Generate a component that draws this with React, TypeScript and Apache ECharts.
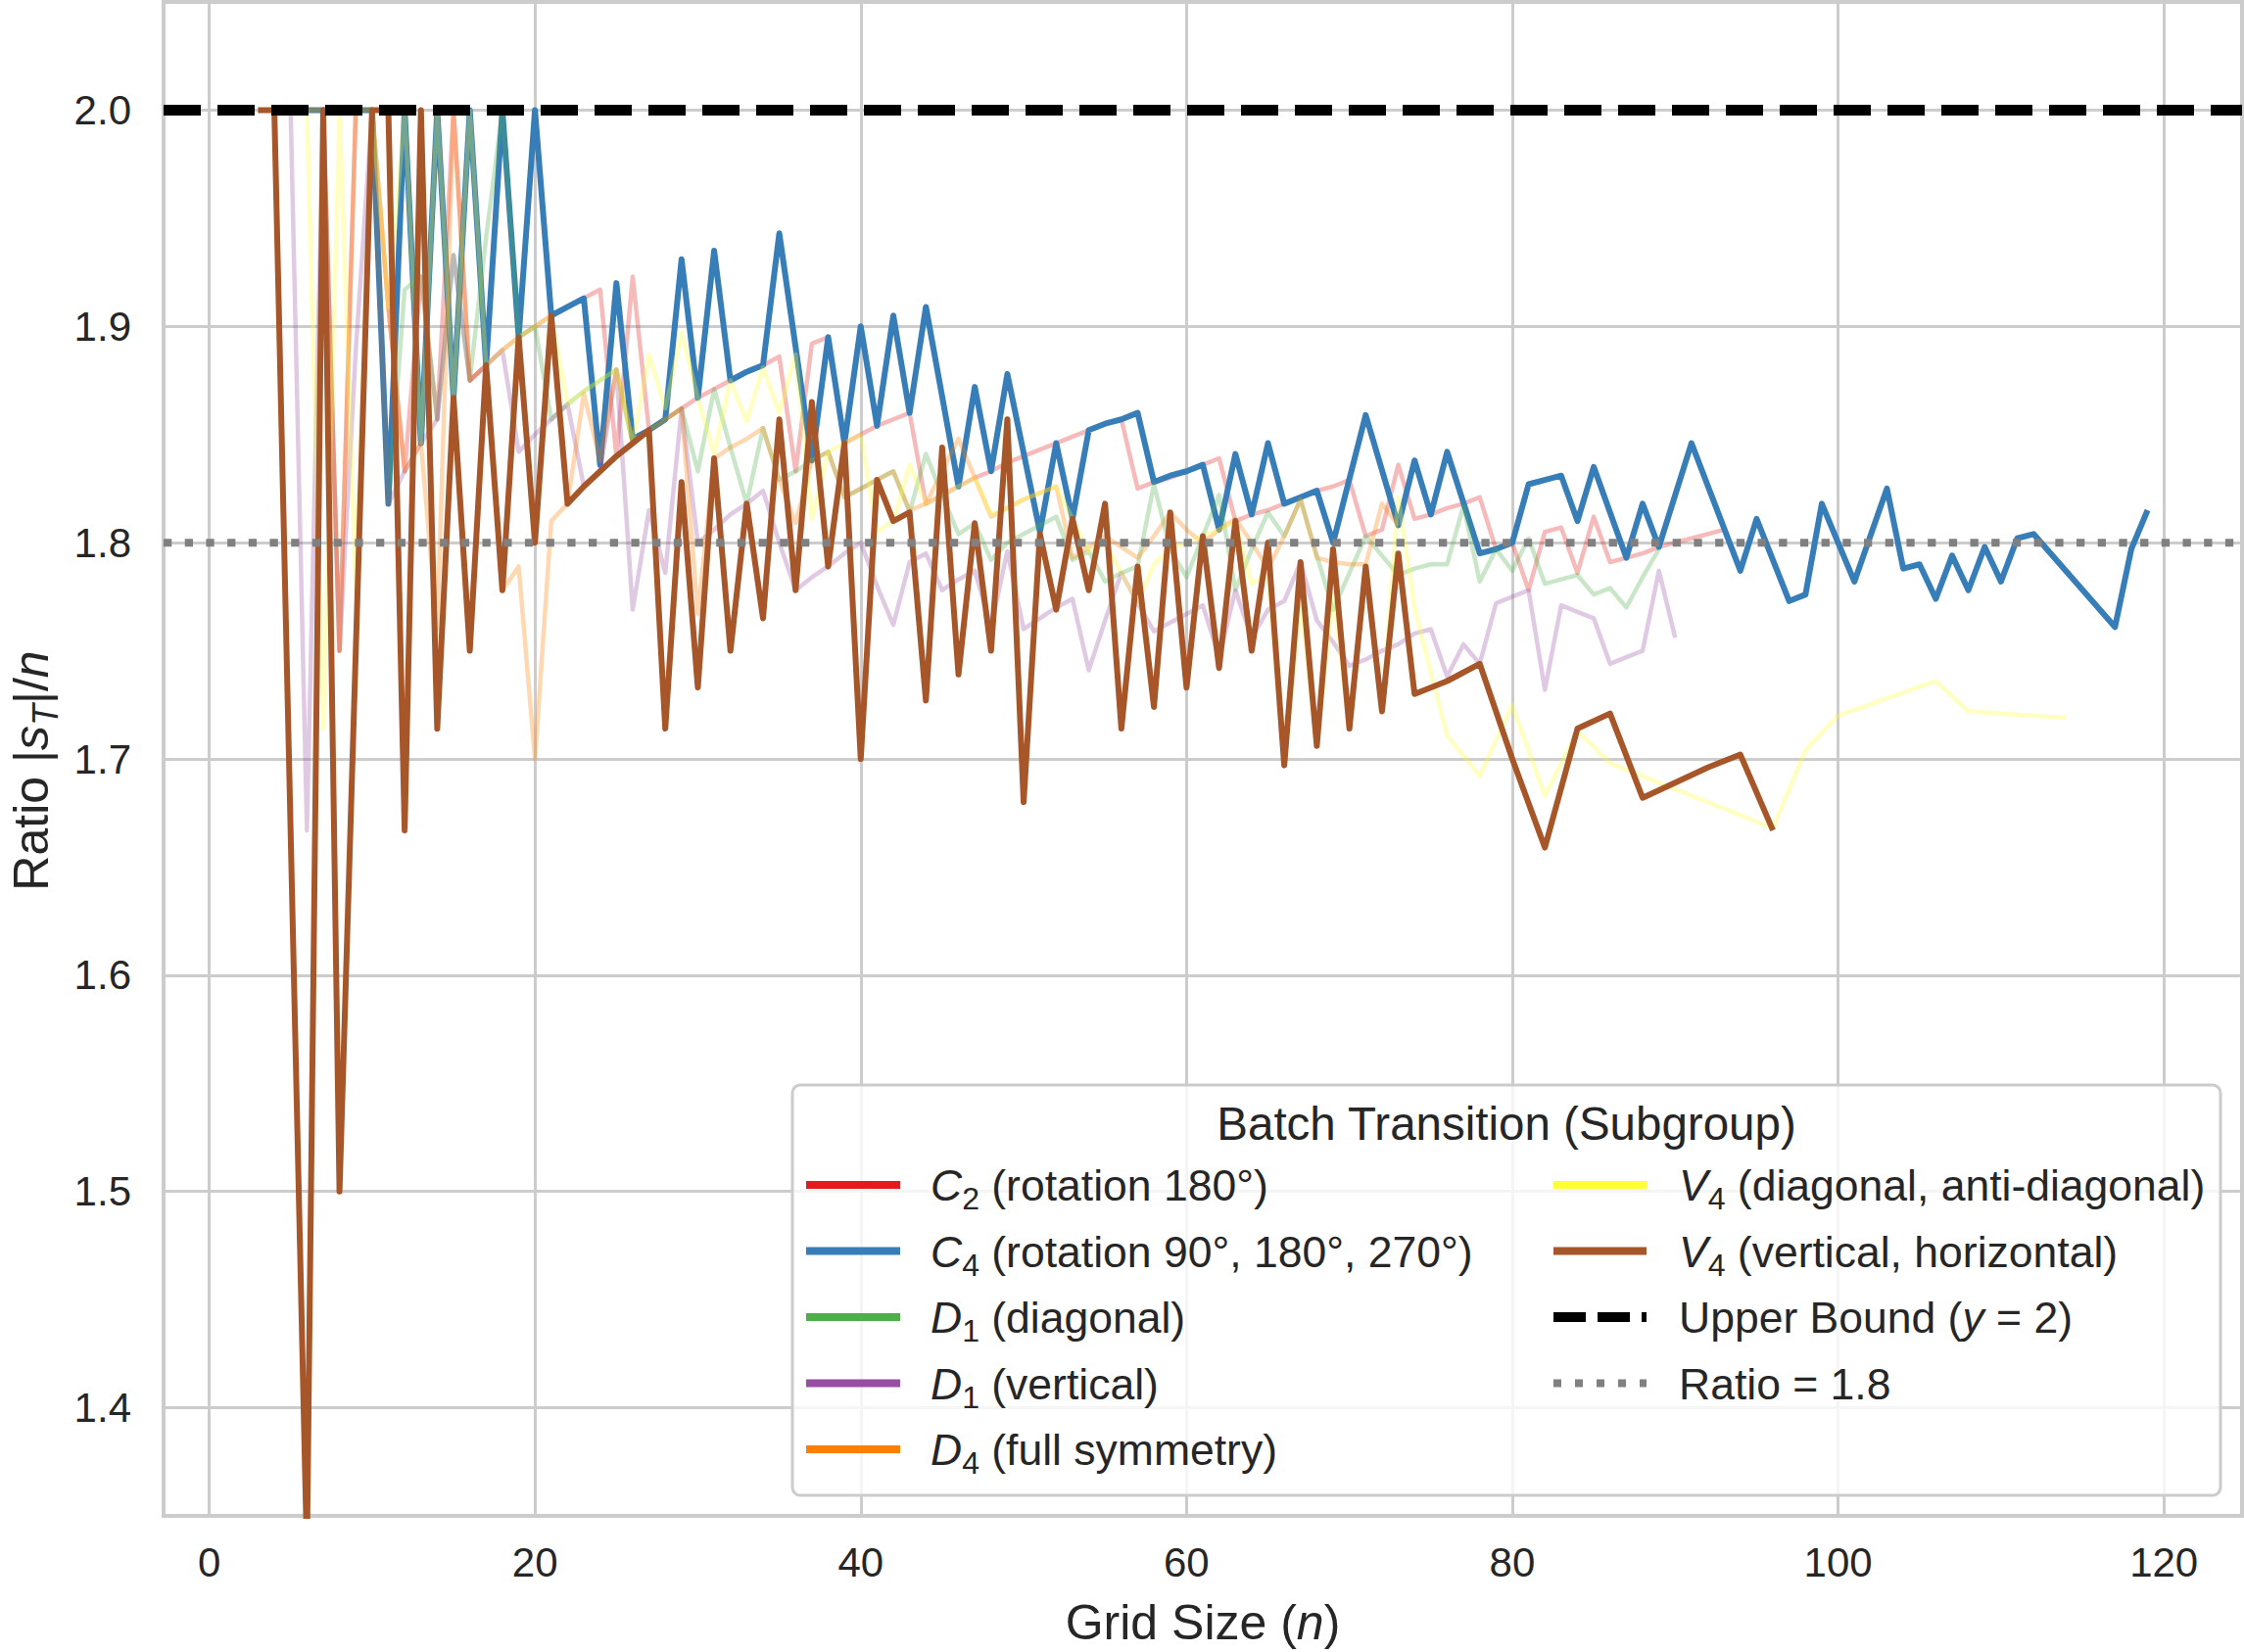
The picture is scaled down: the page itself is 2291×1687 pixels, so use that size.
import React, { useEffect, useRef } from "react";
import * as echarts from "echarts";

// ---------------- data ----------------
const X_MIN = -2.8;
const X_MAX = 124.8;
const Y_MIN = 1.35;
const Y_MAX = 2.05;
const X_TICKS = [0, 20, 40, 60, 80, 100, 120];
const Y_TICKS = [1.4, 1.5, 1.6, 1.7, 1.8, 1.9, 2.0];
const UPPER_BOUND = 2.0;
const RATIO_LINE = 1.8;

const c2Data = [
  [4, 2.0], [5, 2.0], [6, 2.0], [7, 2.0], [8, 1.75], [9, 2.0], [10, 2.0], [11, 1.909], [12, 1.833], [13, 1.923],
  [14, 1.857], [15, 2.0], [16, 1.875], [17, 1.882], [18, 1.889], [19, 1.895], [20, 1.9], [21, 1.905], [22, 1.909],
  [23, 1.913], [24, 1.917], [25, 1.84], [26, 1.923], [27, 1.852], [28, 1.857], [29, 1.862], [30, 1.867], [31, 1.871],
  [32, 1.875], [33, 1.879], [34, 1.882], [35, 1.886], [36, 1.833], [37, 1.892], [38, 1.895], [39, 1.846], [40, 1.85],
  [41, 1.854], [42, 1.857], [43, 1.86], [44, 1.818], [45, 1.822], [46, 1.826], [47, 1.83], [48, 1.833], [49, 1.837],
  [50, 1.84], [51, 1.843], [52, 1.846], [53, 1.849], [54, 1.852], [55, 1.855], [56, 1.857], [57, 1.825], [58, 1.828],
  [59, 1.83], [60, 1.833], [61, 1.836], [62, 1.839], [63, 1.81], [64, 1.813], [65, 1.815], [66, 1.818], [67, 1.821],
  [68, 1.824], [69, 1.826], [70, 1.829], [71, 1.803], [72, 1.806], [73, 1.836], [74, 1.811], [75, 1.813], [76, 1.816],
  [77, 1.818], [78, 1.821], [79, 1.797], [80, 1.8], [81, 1.778], [82, 1.805], [83, 1.807], [84, 1.786], [85, 1.812],
  [86, 1.791], [87, 1.793], [88, 1.795], [89, 1.798], [90, 1.8], [91, 1.802], [92, 1.804], [93, 1.806],
];

const c4Data = [
  [4, 2.0], [5, 2.0], [6, 2.0], [7, 2.0], [8, 2.0], [9, 2.0], [10, 2.0], [11, 1.818], [12, 2.0], [13, 1.846],
  [14, 2.0], [15, 1.867], [16, 2.0], [17, 1.882], [18, 2.0], [19, 1.895], [20, 2.0], [21, 1.905], [22, 1.909],
  [23, 1.913], [24, 1.836], [25, 1.92], [26, 1.848], [27, 1.852], [28, 1.857], [29, 1.931], [30, 1.867], [31, 1.935],
  [32, 1.875], [33, 1.879], [34, 1.882], [35, 1.943], [37, 1.838], [38, 1.895], [39, 1.846], [40, 1.9], [41, 1.854],
  [42, 1.905], [43, 1.86], [44, 1.909], [46, 1.826], [47, 1.872], [48, 1.833], [49, 1.878], [51, 1.805], [52, 1.846],
  [53, 1.811], [54, 1.852], [55, 1.855], [56, 1.857], [57, 1.86], [58, 1.828], [59, 1.831], [60, 1.833], [61, 1.836],
  [62, 1.806], [63, 1.841], [64, 1.813], [65, 1.846], [66, 1.818], [67, 1.821], [68, 1.824], [69, 1.8], [71, 1.859],
  [73, 1.808], [74, 1.838], [75, 1.813], [76, 1.842], [78, 1.795], [79, 1.797], [80, 1.8], [81, 1.827], [82, 1.829],
  [83, 1.831], [84, 1.81], [85, 1.835], [87, 1.793], [88, 1.818], [89, 1.798], [91, 1.846], [94, 1.787], [95, 1.811],
  [97, 1.773], [98, 1.776], [99, 1.818], [101, 1.782], [103, 1.825], [104, 1.788], [105, 1.79], [106, 1.774],
  [107, 1.794], [108, 1.778], [109, 1.798], [110, 1.782], [111, 1.802], [112, 1.804], [117, 1.761], [118, 1.797],
  [119, 1.815],
];

const d1DiagData = [
  [4, 2.0], [5, 2.0], [6, 2.0], [7, 2.0], [8, 2.0], [9, 2.0], [10, 2.0], [11, 1.818], [12, 1.917], [13, 1.923],
  [14, 1.857], [15, 1.933], [16, 1.875], [17, 1.941], [18, 2.0], [19, 1.895], [20, 1.9], [21, 1.857], [22, 1.864],
  [23, 1.87], [24, 1.875], [25, 1.88], [26, 1.846], [27, 1.852], [28, 1.857], [29, 1.862], [30, 1.833], [31, 1.871],
  [32, 1.844], [33, 1.818], [34, 1.853], [35, 1.829], [36, 1.833], [37, 1.838], [38, 1.842], [39, 1.821], [40, 1.825],
  [41, 1.829], [42, 1.833], [43, 1.814], [44, 1.841], [45, 1.822], [46, 1.804], [47, 1.809], [48, 1.792], [49, 1.8],
  [50, 1.804], [51, 1.808], [52, 1.812], [53, 1.792], [54, 1.796], [55, 1.782], [56, 1.786], [57, 1.789], [58, 1.827],
  [59, 1.797], [60, 1.784], [61, 1.803], [62, 1.822], [63, 1.778], [64, 1.797], [65, 1.814], [66, 1.803], [67, 1.82],
  [68, 1.794], [69, 1.769], [70, 1.786], [71, 1.803], [72, 1.794], [73, 1.785], [74, 1.788], [75, 1.79], [76, 1.79],
  [77, 1.817], [78, 1.782], [79, 1.797], [80, 1.787], [81, 1.802], [82, 1.781], [83, 1.783], [84, 1.785], [85, 1.776],
  [86, 1.779], [87, 1.77], [88, 1.784], [89, 1.797],
];

const d1VertData = [
  [4, 2.0], [5, 2.0], [6, 1.667], [7, 2.0], [8, 1.75], [9, 1.889], [10, 2.0], [11, 1.818], [12, 1.833], [13, 1.846],
  [14, 1.857], [15, 1.933], [16, 1.875], [17, 1.882], [18, 1.889], [19, 1.842], [20, 1.85], [21, 1.857], [22, 1.864],
  [23, 1.826], [24, 1.833], [25, 1.88], [26, 1.769], [27, 1.815], [28, 1.786], [29, 1.862], [30, 1.8], [31, 1.806],
  [32, 1.813], [33, 1.818], [34, 1.824], [35, 1.8], [36, 1.778], [37, 1.784], [38, 1.789], [39, 1.795], [40, 1.8],
  [41, 1.78], [42, 1.762], [43, 1.791], [44, 1.795], [45, 1.778], [46, 1.783], [47, 1.787], [48, 1.761], [49, 1.796],
  [50, 1.76], [51, 1.765], [52, 1.77], [53, 1.774], [54, 1.741], [55, 1.764], [56, 1.786], [57, 1.772], [58, 1.759],
  [59, 1.763], [60, 1.767], [61, 1.771], [62, 1.747], [63, 1.778], [64, 1.756], [65, 1.769], [66, 1.773], [67, 1.791],
  [68, 1.764], [69, 1.754], [70, 1.743], [71, 1.746], [72, 1.75], [73, 1.753], [74, 1.758], [75, 1.76], [76, 1.738],
  [77, 1.753], [78, 1.744], [79, 1.772], [80, 1.775], [81, 1.778], [82, 1.732], [83, 1.771], [84, 1.768], [85, 1.765],
  [86, 1.744], [87, 1.747], [88, 1.75], [89, 1.787], [90, 1.756],
];

const d4Data = [
  [3, 2.0], [4, 2.0], [5, 2.0], [6, 2.0], [7, 2.0], [8, 1.75], [9, 2.0], [10, 2.0], [11, 1.909], [12, 1.833],
  [13, 1.846], [14, 1.76], [15, 2.0], [16, 1.875], [17, 1.882], [18, 1.778], [19, 1.789], [20, 1.7], [21, 1.81],
  [22, 1.818], [23, 1.869], [24, 1.838], [25, 1.88], [26, 1.846], [27, 1.852], [28, 1.857], [29, 1.862], [30, 1.767],
  [31, 1.839], [32, 1.844], [33, 1.848], [34, 1.853], [35, 1.829], [36, 1.809], [37, 1.838], [38, 1.842], [39, 1.821],
  [40, 1.825], [41, 1.829], [42, 1.833], [43, 1.815], [44, 1.818], [45, 1.833], [46, 1.848], [47, 1.83], [48, 1.812],
  [49, 1.816], [50, 1.82], [51, 1.823], [52, 1.826], [53, 1.793], [54, 1.798], [55, 1.803], [56, 1.798], [57, 1.793],
  [58, 1.803], [59, 1.814], [60, 1.806], [61, 1.8], [62, 1.806], [63, 1.811], [64, 1.8], [65, 1.788], [66, 1.803],
  [67, 1.82], [68, 1.793], [69, 1.791], [70, 1.79], [71, 1.79], [72, 1.818], [73, 1.808],
];

const v4DiagData = [
  [5, 2.0], [6, 2.0], [7, 1.714], [8, 2.0], [9, 1.778], [10, 2.0], [11, 1.909], [12, 2.0], [13, 1.846], [14, 2.0],
  [15, 1.867], [16, 2.0], [17, 1.882], [18, 1.889], [19, 1.895], [20, 1.9], [21, 1.905], [22, 1.864], [23, 1.87],
  [24, 1.875], [25, 1.88], [26, 1.846], [27, 1.887], [28, 1.862], [29, 1.897], [30, 1.867], [31, 1.841], [32, 1.875],
  [33, 1.856], [34, 1.881], [35, 1.86], [36, 1.887], [37, 1.811], [38, 1.842], [39, 1.846], [40, 1.85], [41, 1.805],
  [42, 1.81], [43, 1.836], [44, 1.818], [45, 1.822], [46, 1.826], [47, 1.83], [48, 1.813], [49, 1.816], [50, 1.82],
  [51, 1.823], [52, 1.826], [53, 1.811], [54, 1.796], [55, 1.8], [56, 1.786], [57, 1.772], [58, 1.79], [59, 1.797],
  [60, 1.8], [61, 1.803], [62, 1.806], [63, 1.81], [64, 1.781], [65, 1.785], [66, 1.697], [67, 1.773], [68, 1.706],
  [69, 1.776], [70, 1.714], [71, 1.79], [72, 1.722], [73, 1.821], [74, 1.77], [75, 1.74], [76, 1.711], [78, 1.692],
  [80, 1.725], [82, 1.683], [84, 1.713], [86, 1.698], [96, 1.668], [98, 1.704], [100, 1.72], [106, 1.736],
  [108, 1.722], [114, 1.719],
];

const v4VertData = [
  [3, 2.0], [4, 2.0], [6, 1.333], [7, 2.0], [8, 1.5], [10, 2.0], [11, 2.0], [12, 1.667], [13, 2.0], [14, 1.714],
  [15, 1.867], [16, 1.75], [17, 1.882], [18, 1.778], [19, 1.895], [20, 1.8], [21, 1.905], [22, 1.818], [23, 1.826],
  [24, 1.833], [25, 1.84], [26, 1.846], [27, 1.852], [28, 1.714], [29, 1.828], [30, 1.733], [31, 1.839], [32, 1.75],
  [33, 1.818], [34, 1.765], [35, 1.857], [36, 1.778], [37, 1.865], [38, 1.789], [39, 1.846], [40, 1.7], [41, 1.829],
  [42, 1.81], [43, 1.814], [44, 1.727], [45, 1.844], [46, 1.739], [47, 1.809], [48, 1.75], [49, 1.857], [50, 1.68],
  [51, 1.804], [52, 1.769], [53, 1.811], [54, 1.778], [55, 1.818], [56, 1.714], [57, 1.789], [58, 1.724], [59, 1.814],
  [60, 1.733], [61, 1.803], [62, 1.742], [63, 1.81], [64, 1.75], [65, 1.8], [66, 1.697], [67, 1.791], [68, 1.706],
  [69, 1.797], [70, 1.714], [71, 1.789], [72, 1.722], [73, 1.795], [74, 1.73], [76, 1.736], [78, 1.744], [80, 1.7],
  [82, 1.659], [84, 1.714], [86, 1.721], [88, 1.682], [90, 1.689], [92, 1.696], [94, 1.702], [96, 1.667],
];

// ---------------- styling ----------------
const FF = "'Liberation Sans', Arial, Helvetica, sans-serif";
const TXT = "#262626";
const GRID = "#cccccc";

const SERIES_DEFS = [
  { key: "c2", data: c2Data, color: "#e41a1c", opacity: 0.3, width: 4.5, label: "{i|C}{sub|2}{t| (rotation 180°)}" },
  { key: "c4", data: c4Data, color: "#377eb8", opacity: 1, width: 6, label: "{i|C}{sub|4}{t| (rotation 90°, 180°, 270°)}" },
  { key: "d1d", data: d1DiagData, color: "#4daf4a", opacity: 0.3, width: 4.5, label: "{i|D}{sub|1}{t| (diagonal)}" },
  { key: "d1v", data: d1VertData, color: "#984ea3", opacity: 0.3, width: 4.5, label: "{i|D}{sub|1}{t| (vertical)}" },
  { key: "d4", data: d4Data, color: "#ff7f00", opacity: 0.3, width: 4.5, label: "{i|D}{sub|4}{t| (full symmetry)}" },
  { key: "v4d", data: v4DiagData, color: "#ffff33", opacity: 0.3, width: 4.5, label: "{i|V}{sub|4}{t| (diagonal, anti-diagonal)}" },
  { key: "v4v", data: v4VertData, color: "#a65628", opacity: 1, width: 6, label: "{i|V}{sub|4}{t| (vertical, horizontal)}" },
];

const LEGEND_TITLE = "Batch Transition (Subgroup)";
const UPPER_LABEL = "{t|Upper Bound (}{i|y}{t| = 2)}";
const RATIO_LABEL = "{t|Ratio = 1.8}";

const LEG_FS = 44.5;
const legendRich = {
  t: { fontSize: LEG_FS, fontFamily: FF, fill: TXT, color: TXT, verticalAlign: "bottom", padding: [0, 0, 7, 0] },
  i: { fontSize: LEG_FS, fontFamily: FF, fontStyle: "italic", fill: TXT, color: TXT, verticalAlign: "bottom", padding: [0, 0, 7, 0] },
  sub: { fontSize: 32, fontFamily: FF, fill: TXT, color: TXT, verticalAlign: "bottom" },
};

function buildLegend() {
  const els: any[] = [];
  const box = { x: 809, y: 1108, w: 1458, h: 419 };
  els.push({
    type: "rect",
    z: 100,
    shape: { x: box.x, y: box.y, width: box.w, height: box.h, r: 8 },
    style: { fill: "rgba(255,255,255,0.8)", stroke: GRID, lineWidth: 3 },
  });
  els.push({
    type: "text",
    z: 101,
    x: 1538,
    y: 1147,
    style: {
      text: LEGEND_TITLE,
      fontSize: 47.5,
      fontFamily: FF,
      fill: TXT,
      align: "center",
      verticalAlign: "middle",
      textAlign: "center",
      textVerticalAlign: "middle",
    },
  });
  const rows = [1210, 1277.5, 1345, 1412.5, 1480];
  const col1 = { lx1: 823, lx2: 919, tx: 950 };
  const col2 = { lx1: 1586, lx2: 1681, tx: 1714 };
  const items: any[] = [];
  SERIES_DEFS.forEach((s, idx) => {
    const col = idx < 5 ? col1 : col2;
    const row = idx < 5 ? rows[idx] : rows[idx - 5];
    items.push({ col, row, color: s.color, label: s.label, dash: null, width: 8 });
  });
  items.push({ col: col2, row: rows[2], color: "#000000", label: UPPER_LABEL, dash: [33, 12], width: 10 });
  items.push({ col: col2, row: rows[3], color: "#808080", label: RATIO_LABEL, dash: [8, 14], width: 8 });
  items.forEach((it) => {
    els.push({
      type: "line",
      z: 101,
      shape: { x1: it.col.lx1, y1: it.row, x2: it.col.lx2, y2: it.row },
      style: { stroke: it.color, lineWidth: it.width, lineDash: it.dash || undefined, lineCap: "butt" },
    });
    els.push({
      type: "text",
      z: 101,
      x: it.col.tx,
      y: it.row + 4,
      style: {
        text: it.label,
        rich: legendRich,
        fontSize: LEG_FS,
        fontFamily: FF,
        fill: TXT,
        align: "left",
        verticalAlign: "middle",
        textAlign: "left",
        textVerticalAlign: "middle",
      },
    });
  });
  return els;
}

function buildOption() {
  const dataSeries = SERIES_DEFS.map((s) => ({
    type: "line",
    name: s.key,
    data: s.data,
    showSymbol: false,
    symbol: "none",
    silent: true,
    clip: true,
    lineStyle: { color: s.color, width: s.width, opacity: s.opacity, join: "round", cap: "butt" },
    itemStyle: { color: s.color },
    emphasis: { disabled: true },
    z: 2,
  }));
  const refSeries = [
    {
      type: "line",
      name: "upper",
      data: [[X_MIN, UPPER_BOUND], [X_MAX, UPPER_BOUND]],
      showSymbol: false,
      symbol: "none",
      silent: true,
      lineStyle: { color: "#000000", width: 11, type: [38, 17], cap: "butt" },
      z: 3,
    },
    {
      type: "line",
      name: "ratio",
      data: [[X_MIN, RATIO_LINE], [X_MAX, RATIO_LINE]],
      showSymbol: false,
      symbol: "none",
      silent: true,
      lineStyle: { color: "#808080", width: 8, type: [8.3, 13.4], cap: "butt" },
      z: 3,
    },
  ];
  return {
    animation: false,
    backgroundColor: "#ffffff",
    grid: {
      left: 167,
      right: 2,
      top: 2,
      bottom: 139,
      show: true,
      containLabel: false,
      outerBoundsMode: "none",
      borderColor: GRID,
      borderWidth: 4,
      backgroundColor: "transparent",
    },
    xAxis: {
      type: "value",
      min: X_MIN,
      max: X_MAX,
      splitNumber: 6,
      minInterval: 20,
      maxInterval: 20,
      axisLine: { show: false },
      axisTick: { show: false },
      splitLine: { show: true, lineStyle: { color: GRID, width: 3 } },
      axisLabel: {
        fontSize: 42,
        fontFamily: FF,
        color: TXT,
        margin: 26,
        showMinLabel: false,
        showMaxLabel: false,
        formatter: (v: number) => (X_TICKS.some((t) => Math.abs(t - v) < 1e-6) ? String(Math.round(v)) : ""),
      },
      name: "{t|Grid Size (}{i|n}{t|)}",
      nameLocation: "middle",
      nameGap: 84,
      nameTextStyle: {
        fontSize: 50,
        fontFamily: FF,
        color: TXT,
        lineHeight: 50,
        rich: {
          t: { fontSize: 50, fontFamily: FF, color: TXT, lineHeight: 50 },
          i: { fontSize: 50, fontFamily: FF, color: TXT, fontStyle: "italic", lineHeight: 50 },
        },
      },
    },
    yAxis: {
      type: "value",
      min: Y_MIN,
      max: Y_MAX,
      splitNumber: 7,
      minInterval: 0.1,
      maxInterval: 0.1,
      axisLine: { show: false },
      axisTick: { show: false },
      splitLine: { show: true, lineStyle: { color: GRID, width: 3 } },
      axisLabel: {
        fontSize: 42,
        fontFamily: FF,
        color: TXT,
        margin: 33,
        showMinLabel: false,
        showMaxLabel: false,
        formatter: (v: number) => (Y_TICKS.some((t) => Math.abs(t - v) < 1e-6) ? v.toFixed(1) : ""),
      },
      name: "{t|Ratio |}{i|s}{sub|T}{t||/}{i|n}",
      nameLocation: "middle",
      nameRotate: 90,
      nameGap: 103,
      nameTextStyle: {
        fontSize: 50,
        fontFamily: FF,
        color: TXT,
        padding: [0, 24, 0, 0],
        rich: {
          t: { fontSize: 50, fontFamily: FF, color: TXT, verticalAlign: "bottom", padding: [0, 0, 7, 0] },
          i: { fontSize: 50, fontFamily: FF, color: TXT, fontStyle: "italic", verticalAlign: "bottom", padding: [0, 0, 7, 0] },
          sub: { fontSize: 36, fontFamily: FF, color: TXT, fontStyle: "italic", verticalAlign: "bottom" },
        },
      },
    },
    series: [...dataSeries, ...refSeries],
    graphic: buildLegend(),
  };
}

export default function App() {
  const ref = useRef<HTMLDivElement | null>(null);
  useEffect(() => {
    if (!ref.current) return;
    const chart = echarts.init(ref.current, undefined, { renderer: "svg" });
    chart.setOption(buildOption() as any);
    return () => chart.dispose();
  }, []);
  return (
    <div
      ref={ref}
      style={{ position: "absolute", left: 0, top: 0, width: 2291, height: 1687, background: "#ffffff" }}
    />
  );
}
